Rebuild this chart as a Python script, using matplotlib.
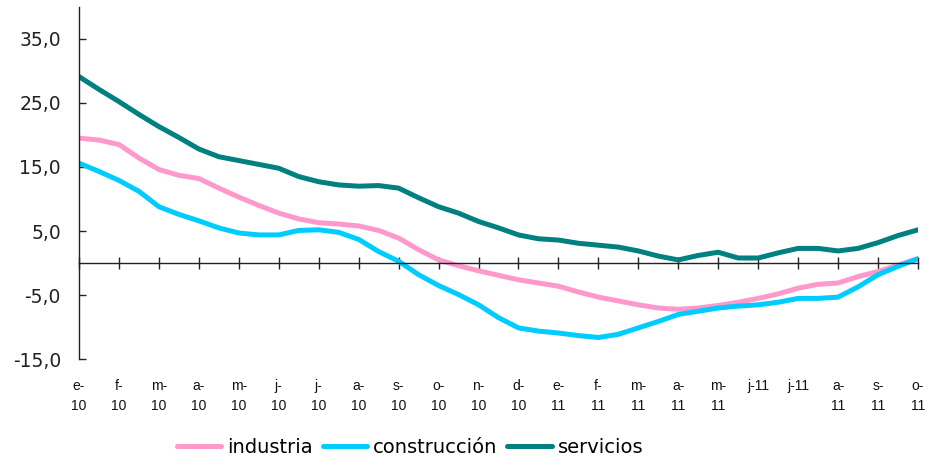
import numpy as np
import matplotlib
matplotlib.use("Agg")
import matplotlib.pyplot as plt

# Month tick labels (e-10 ... o-11)
month_labels = ["e-\n10", "f-\n10", "m-\n10", "a-\n10", "m-\n10", "j-\n10", "j-\n10", "a-\n10",
                "s-\n10", "o-\n10", "n-\n10", "d-\n10", "e-\n11", "f-\n11", "m-\n11", "a-\n11",
                "m-\n11", "j-11", "j-11", "a-\n11", "s-\n11", "o-\n11"]

# Half-month observations (position in months from e-10)
obs_pos = np.arange(43) / 2.0

industria = [19.5, 19.2, 18.5, 16.4, 14.6, 13.7, 13.2, 11.7, 10.3, 9.0, 7.8, 6.9, 6.3,
             6.1, 5.8, 5.1, 3.9, 2.1, 0.5, -0.4, -1.2, -1.9, -2.6, -3.1, -3.6,
             -4.5, -5.3, -5.9, -6.5, -7.0, -7.2, -7.0, -6.6, -6.1, -5.5,
             -4.8, -3.9, -3.3, -3.1, -2.1, -1.3, -0.3, 0.7]

construccion = [15.6, 14.3, 12.9, 11.2, 8.8, 7.6, 6.6, 5.5, 4.7, 4.4, 4.4, 5.1, 5.2,
                4.8, 3.7, 1.8, 0.3, -1.8, -3.5, -4.9, -6.5, -8.5, -10.1, -10.6, -10.9,
                -11.3, -11.6, -11.1, -10.1, -9.1, -8.0, -7.5, -7.0, -6.7, -6.5,
                -6.1, -5.5, -5.5, -5.3, -3.7, -1.8, -0.5, 0.7]

servicios = [29.1, 27.1, 25.2, 23.2, 21.3, 19.6, 17.8, 16.6, 16.0, 15.4, 14.8, 13.5, 12.7,
             12.2, 12.0, 12.1, 11.7, 10.2, 8.8, 7.8, 6.5, 5.5, 4.4, 3.8, 3.6,
             3.1, 2.8, 2.5, 1.9, 1.1, 0.5, 1.2, 1.7, 0.8, 0.8,
             1.6, 2.3, 2.3, 1.9, 2.3, 3.2, 4.3, 5.2]

y_ticks = [-15, -5, 5, 15, 25, 35]

fig = plt.figure(figsize=(9.29, 4.61), dpi=100)
ax = fig.add_axes([79/929, 1-359.3/461, (918-79)/929, (359.3-6.7)/461])

lw = 3.6
ax.plot(obs_pos, industria, color="#FF99CC", lw=lw, solid_capstyle="round", label="industria")
ax.plot(obs_pos, construccion, color="#00CCFF", lw=lw, solid_capstyle="round", label="construcción")
ax.plot(obs_pos, servicios, color="#008080", lw=lw, solid_capstyle="round", label="servicios")

ax.set_xlim(0, len(month_labels) - 1)
ax.set_ylim(-15, 40)

for s in ["top", "right"]:
    ax.spines[s].set_visible(False)
ax.spines["left"].set_color("#222222")
ax.spines["left"].set_linewidth(1.0)
ax.spines["bottom"].set_position(("data", 0))
ax.spines["bottom"].set_color("#222222")
ax.spines["bottom"].set_linewidth(1.0)

ax.set_yticks(y_ticks)
ax.set_yticklabels([f"{v:.1f}".replace(".", ",") for v in y_ticks],
                   fontsize=13.5, family="DejaVu Sans", color="#222222")
ax.tick_params(axis="y", direction="in", length=5, width=1, pad=13, colors="#222222")

xpos = np.arange(len(month_labels))
ax.set_xticks(xpos)
ax.tick_params(axis="x", direction="inout", length=9, width=1, labelbottom=False, colors="#222222")

sec = ax.secondary_xaxis(0.0)
sec.set_xticks(xpos)
sec.set_xticklabels(month_labels, fontsize=10, family="Liberation Sans",
                    linespacing=1.55, va="top", color="#111111")
sec.tick_params(length=0, pad=14)
sec.spines["bottom"].set_visible(False)
for lab in sec.get_xticklabels():
    if "\n" not in lab.get_text():
        pass

fig.legend(loc="center", bbox_to_anchor=(410/929, 1-447/461), ncol=3, frameon=False,
           prop={"family": "DejaVu Sans", "size": 14}, handlelength=2.3,
           handletextpad=0.3, columnspacing=0.5, borderpad=0)

fig.savefig("out.png", dpi=100)
